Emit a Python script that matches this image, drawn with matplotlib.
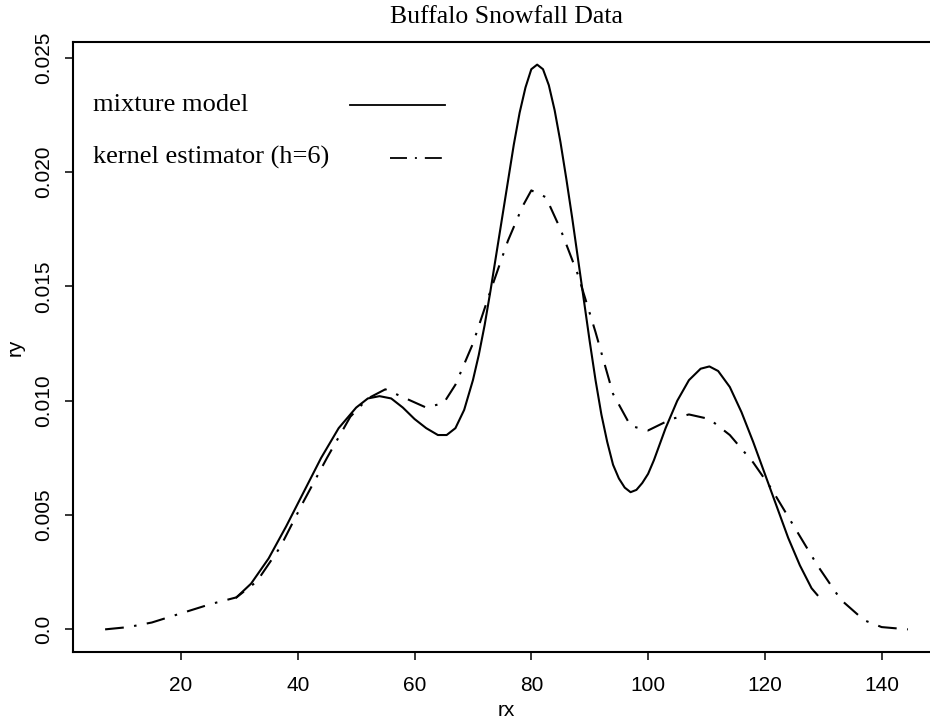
import matplotlib
matplotlib.use('Agg')
import matplotlib.pyplot as plt
from matplotlib import font_manager

# mixture model density (solid)
mix_x = [29.5, 32, 35, 38, 41, 44, 47, 50, 52, 54, 56, 58, 60, 62, 64, 65.5, 67, 68.5,
         70, 71, 72, 73, 74, 75, 76, 77, 78, 79, 80, 81, 82, 83, 84, 85, 86, 87, 88, 89,
         90, 91, 92, 93, 94, 95, 96, 97, 98, 99, 100, 101, 103, 105,
         107, 109, 110.5, 112, 114, 116, 118, 120, 122, 124, 126, 128, 129]
mix_y = [0.0014, 0.0020, 0.0031, 0.0045, 0.0060, 0.0075, 0.0088, 0.0097, 0.0101, 0.0102,
         0.0101, 0.0097, 0.0092, 0.0088, 0.0085, 0.0085, 0.0088, 0.0096,
         0.0109, 0.0120, 0.0133, 0.0148, 0.0164, 0.0180, 0.0196, 0.0212, 0.0226, 0.0237,
         0.0245, 0.0247, 0.0245, 0.0238, 0.0227, 0.0213, 0.0197, 0.0180, 0.0162, 0.0144,
         0.0126, 0.0109, 0.0094, 0.0082, 0.0072, 0.0066, 0.0062, 0.0060, 0.0061, 0.0064,
         0.0068, 0.0074, 0.0088, 0.0100,
         0.0109, 0.0114, 0.0115, 0.0113, 0.0106, 0.0095, 0.0082, 0.0068, 0.0054, 0.0040,
         0.0028, 0.0018, 0.0015]

# kernel estimator, h=6 (dot-dash)
ker_x = [7, 11, 15, 20, 25, 29.5, 33, 37, 41, 45, 49, 52, 55, 58.5, 62, 65, 67, 70, 73,
         76, 78.5, 80, 82.5, 85, 88, 91, 94, 97, 100, 104, 107, 110.5, 114, 118, 121,
         125, 129, 133, 137, 140, 144.5]
ker_y = [0.0000, 0.0001, 0.0003, 0.0007, 0.0011, 0.0014, 0.0021, 0.0036, 0.0056, 0.0075,
         0.0093, 0.0101, 0.0105, 0.0101, 0.0097, 0.0099, 0.0107, 0.0125, 0.0148,
         0.0170, 0.0185, 0.0192, 0.0189, 0.0175, 0.0155, 0.0130, 0.0103, 0.0089, 0.0087,
         0.0092, 0.0094, 0.0092, 0.0085, 0.0073, 0.0062,
         0.0045, 0.0028, 0.0013, 0.0004, 0.0001, 0.0000]

x_ticks = [20, 40, 60, 80, 100, 120, 140]
y_ticks = [0.0, 0.005, 0.010, 0.015, 0.020, 0.025]
y_tick_labels = ['0.0', '0.005', '0.010', '0.015', '0.020', '0.025']

names = set(f.name for f in font_manager.fontManager.ttflist)
sans = 'Liberation Sans' if 'Liberation Sans' in names else 'DejaVu Sans'
serif = 'Liberation Serif' if 'Liberation Serif' in names else 'DejaVu Serif'

dotdash = (0, (9, 5, 1.2, 5))

fig = plt.figure(figsize=(9.3, 7.24), dpi=100)
# axes spans past the right edge, as in the (cropped) original
ax = fig.add_axes([73 / 930, 1 - 652 / 724, 867 / 930, 610 / 724])

ax.plot(mix_x, mix_y, color='black', lw=1.5)
ax.plot(ker_x, ker_y, color='black', lw=1.5, linestyle=dotdash)

ax.set_xlim(1.5, 150)
ax.set_ylim(-0.00099, 0.02569)
ax.set_xticks(x_ticks)
ax.set_xticklabels([str(t) for t in x_ticks], fontfamily=sans, fontsize=15)
ax.set_yticks(y_ticks)
ax.set_yticklabels(y_tick_labels, fontfamily=sans, fontsize=15, rotation=90, va='center')
ax.tick_params(axis='both', direction='out', length=6, width=1.1)
ax.tick_params(axis='x', pad=11)
ax.tick_params(axis='y', pad=8)

for s in ax.spines.values():
    s.set_linewidth(1.5)

ax.set_xlabel('rx', fontfamily=sans, fontsize=15)
ax.set_ylabel('ry', fontfamily=sans, fontsize=15)
ax.xaxis.set_label_coords(0.5, -0.080)
ax.yaxis.set_label_coords(-0.056, 0.5)

ax.set_title('Buffalo Snowfall Data', fontfamily=serif, fontsize=18.5, pad=14)

# hand-placed legend, R style: text then line sample
ax.text(0.023, 0.897, 'mixture model', transform=ax.transAxes, fontfamily=serif,
        fontsize=19, va='center', ha='left')
ax.plot([0.3195, 0.429], [0.897, 0.897], transform=ax.transAxes, color='black', lw=1.3)
ax.text(0.023, 0.810, 'kernel estimator (h=6)', transform=ax.transAxes, fontfamily=serif,
        fontsize=19, va='center', ha='left')
ax.plot([0.366, 0.4256], [0.810, 0.810], transform=ax.transAxes, color='black', lw=1.3,
        linestyle=(0, (9.4, 4.4, 1.1, 4.4)))

fig.savefig('out.png', dpi=100)
